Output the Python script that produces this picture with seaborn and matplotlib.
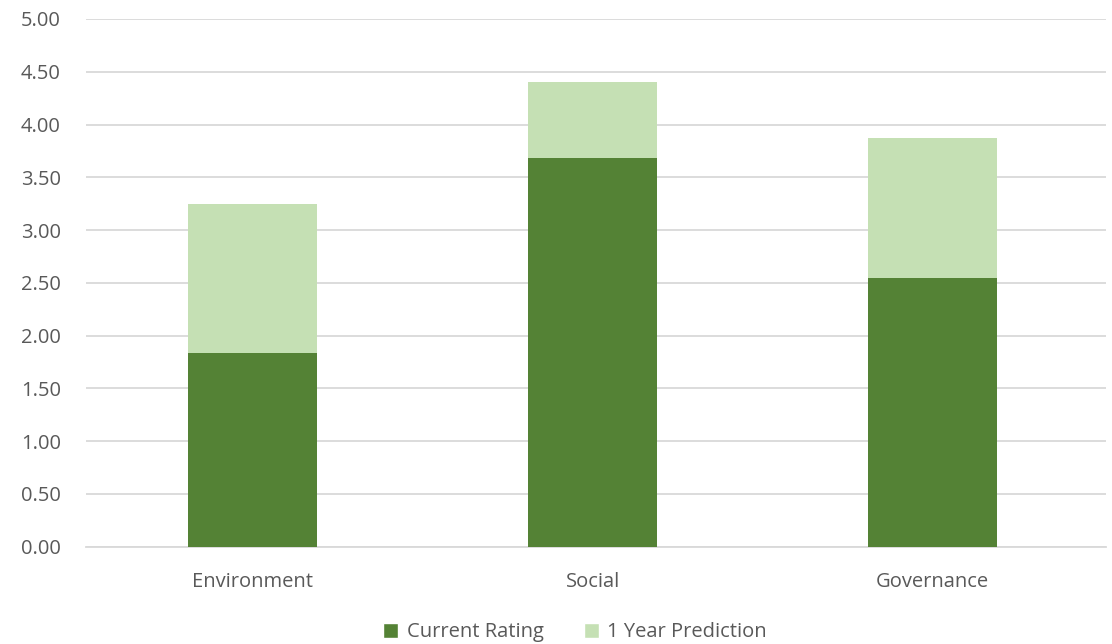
import matplotlib
matplotlib.use("Agg")
import matplotlib.pyplot as plt
import seaborn as sns
import pandas as pd
from matplotlib.patches import Patch

# values
categories = ["Environment", "Social", "Governance"]
current_rating = [1.84, 3.68, 2.55]
one_year_prediction = [3.25, 4.40, 3.87]

DARK = "#548235"
LIGHT = "#C5E0B4"
TEXT = "#595959"
GRID = "#D9D9D9"

df = pd.DataFrame(
    {
        "category": categories,
        "current": current_rating,
        "prediction": one_year_prediction,
    }
)

sns.set_theme(style="white")
plt.rcParams["font.family"] = ["Open Sans", "DejaVu Sans"]

fig = plt.figure(figsize=(11.12, 6.44), dpi=100)
ax = fig.add_axes([0.0773, 0.151, 0.9173, 0.8195])

# prediction drawn full height behind, current rating on top
sns.barplot(data=df, x="category", y="prediction", color=LIGHT, width=0.38,
            saturation=1, linewidth=0, ax=ax, zorder=2)
sns.barplot(data=df, x="category", y="current", color=DARK, width=0.38,
            saturation=1, linewidth=0, ax=ax, zorder=3)

ax.set_ylim(0, 5)
ax.set_xlim(-0.49, 2.51)
ax.set_yticks([i * 0.5 for i in range(11)])
ax.set_yticklabels([f"{i * 0.5:.2f}" for i in range(11)])
ax.yaxis.grid(True, color=GRID, linewidth=1.3, zorder=0)
ax.set_axisbelow(True)
for s in ["top", "right", "left"]:
    ax.spines[s].set_visible(False)
ax.spines["bottom"].set_color(GRID)
ax.spines["bottom"].set_linewidth(1.3)
ax.set_xlabel("")
ax.set_ylabel("")
ax.tick_params(axis="y", length=0, pad=18, labelsize=14.5, labelcolor=TEXT)
ax.tick_params(axis="x", length=0, pad=18, labelsize=14.5, labelcolor=TEXT)

handles = [Patch(facecolor=DARK, label="Current Rating"),
           Patch(facecolor=LIGHT, label="1 Year Prediction")]
fig.legend(handles=handles, loc="center", bbox_to_anchor=(0.517, 0.018),
           ncol=2, frameon=False, fontsize=14.5, labelcolor=TEXT,
           handlelength=0.75, handleheight=0.75, handletextpad=0.4,
           columnspacing=2.0)

fig.savefig("out.png", dpi=100)
